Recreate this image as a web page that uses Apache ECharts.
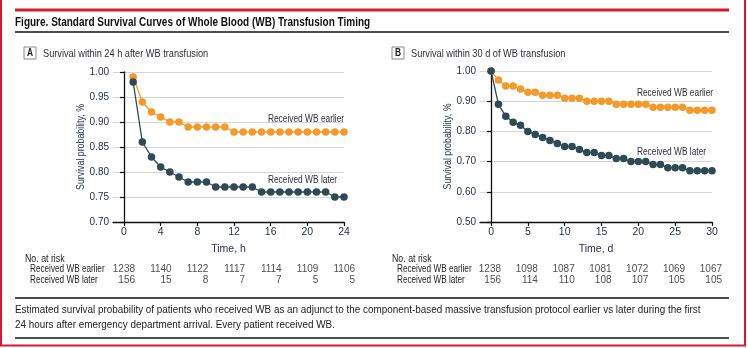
<!DOCTYPE html>
<html>
<head>
<meta charset="utf-8">
<script src="https://cdn.jsdelivr.net/npm/echarts@6/dist/echarts.min.js"></script>
<style>
  html, body { margin: 0; padding: 0; background: #fff; }
  #chart { width: 748px; height: 348px; }
</style>
</head>
<body>
<div id="chart"></div>
<script>
// Panel A: survival within 24 h (hours 1..24)
const hoursA = [1,2,3,4,5,6,7,8,9,10,11,12,13,14,15,16,17,18,19,20,21,22,23,24];
const earlierA = [0.99,0.94,0.92,0.91,0.90,0.90,0.89,0.89,0.89,0.89,0.89,0.88,0.88,0.88,0.88,0.88,0.88,0.88,0.88,0.88,0.88,0.88,0.88,0.88];
const laterA   = [0.98,0.86,0.83,0.81,0.80,0.79,0.78,0.78,0.78,0.77,0.77,0.77,0.77,0.77,0.76,0.76,0.76,0.76,0.76,0.76,0.76,0.76,0.75,0.75];

// Panel B: survival within 30 d (days 0..30)
const daysB = [0,1,2,3,4,5,6,7,8,9,10,11,12,13,14,15,16,17,18,19,20,21,22,23,24,25,26,27,28,29,30];
const earlierB = [1.00,0.97,0.95,0.95,0.94,0.93,0.93,0.92,0.92,0.92,0.91,0.91,0.91,0.90,0.90,0.90,0.90,0.89,0.89,0.89,0.89,0.89,0.88,0.88,0.88,0.88,0.88,0.87,0.87,0.87,0.87];
const laterB   = [1.00,0.89,0.85,0.83,0.82,0.80,0.79,0.78,0.77,0.76,0.75,0.75,0.74,0.73,0.73,0.72,0.72,0.71,0.71,0.70,0.70,0.70,0.69,0.69,0.68,0.68,0.68,0.67,0.67,0.67,0.67];

// Tick labels
const ticksA = [0,4,8,12,16,20,24];
const ticksB = [0,5,10,15,20,25,30];

// Numbers at risk
const riskRows = ['Received WB earlier', 'Received WB later'];
const riskEarlierA = [1238,1140,1122,1117,1114,1109,1106];
const riskLaterA   = [156,15,8,7,7,5,5];
const riskEarlierB = [1238,1098,1087,1081,1072,1069,1067];
const riskLaterB   = [156,114,110,108,107,105,105];

const FONT = '"Liberation Sans", Arial, sans-serif';
const ORANGE = '#F39A2B';
const SLATE = '#2E4A55';
const AXIS_TXT = '#263248';
const RED = '#D9182D';
const NARROW = 0.8;   // horizontal squeeze for a condensed look

const chart = echarts.init(document.getElementById('chart'), null, { renderer: 'canvas' });

function pairs(xs, ys) { return xs.map((x, i) => [x, ys[i]]); }

function plotX(gridIndex, min, max, ticks, name) {
  return {
    gridIndex, type: 'value', min, max,
    name, nameLocation: 'middle', nameGap: 22,
    nameTextStyle: { fontFamily: FONT, fontSize: 10.5, color: AXIS_TXT },
    axisLine: { show: true, lineStyle: { color: '#111', width: 1.3 } },
    axisTick: { show: true, length: 4, customValues: ticks, lineStyle: { color: '#111', width: 1.2 } },
    axisLabel: { customValues: ticks, margin: 5, fontFamily: FONT, fontSize: 10.5, color: AXIS_TXT },
    splitLine: { show: false }
  };
}
function plotY(gridIndex, min, max, interval) {
  return {
    gridIndex, type: 'value', min, max, interval,
    axisLine: { show: true, lineStyle: { color: '#111', width: 1.3 } },
    axisTick: { show: true, length: 4, lineStyle: { color: '#111', width: 1.2 } },
    axisLabel: { margin: 4, fontFamily: FONT, fontSize: 10, color: AXIS_TXT, formatter: v => v.toFixed(2) },
    splitLine: { show: true, lineStyle: { color: '#d6d6d6', width: 1 } }
  };
}
function riskX(gridIndex, min, max) {
  return { gridIndex, type: 'value', min, max, show: false };
}
function riskY(gridIndex) {
  return { gridIndex, type: 'category', data: riskRows, inverse: true, show: false };
}
function curve(name, x, y, data, color, z) {
  return {
    name, type: 'line', xAxisIndex: x, yAxisIndex: y, data, z,
    symbol: 'circle', symbolSize: 7.5, showSymbol: true,
    lineStyle: { color, width: 1.3 }, itemStyle: { color },
    animation: false, silent: true
  };
}
function riskSeries(x, y, times, earlier, later, dx) {
  const data = [];
  times.forEach((t, i) => { data.push([t, riskRows[0], earlier[i]]); data.push([t, riskRows[1], later[i]]); });
  return {
    type: 'scatter', xAxisIndex: x, yAxisIndex: y, data, symbolSize: 0, silent: true, animation: false,
    label: {
      show: true, position: 'inside', align: 'right', verticalAlign: 'middle', offset: [dx, 0],
      formatter: p => String(p.value[2]), fontFamily: FONT, fontSize: 10, color: '#222'
    }
  };
}

// Condensed text helper (text squeezed horizontally around its anchor)
const ctext = (text, x, y, extra, opts) => Object.assign({
  type: 'text', silent: true, x, y, scaleX: NARROW,
  style: Object.assign({ text, fontFamily: FONT, fontSize: 11, fill: '#222', verticalAlign: 'middle', align: 'left' }, extra || {})
}, opts || {});
const hline = (x1, x2, y, color, w) => ({
  type: 'line', silent: true, shape: { x1, y1: y, x2, y2: y }, style: { stroke: color, lineWidth: w }
});
const vline = (x, y1, y2, color, w) => ({
  type: 'line', silent: true, shape: { x1: x, y1, x2: x, y2 }, style: { stroke: color, lineWidth: w }
});
const panelTag = (letter, x, y, label) => ([
  { type: 'rect', silent: true, shape: { x, y, width: 12, height: 12 }, style: { fill: '#fff', stroke: '#8a8a8a', lineWidth: 1 } },
  ctext(letter, x + 6, y + 6.5, { fontSize: 10.5, fontWeight: 'bold', align: 'center' }),
  ctext(label, x + 19, y + 6.5, { fontSize: 11.5, fill: '#2b2d3a' })
]);

const option = {
  backgroundColor: '#fff',
  animation: false,
  grid: [
    { left: 113, top: 72, width: 231, height: 150 },
    { left: 480, top: 71, width: 232, height: 151 },
    { left: 113, top: 264, width: 231, height: 22 },
    { left: 480, top: 264, width: 232, height: 22 }
  ],
  xAxis: [
    plotX(0, -1.2, 24, ticksA, 'Time, h'),
    plotX(1, -1.5, 30, ticksB, 'Time, d'),
    riskX(2, -1.2, 24),
    riskX(3, -1.5, 30)
  ],
  yAxis: [
    plotY(0, 0.70, 1.00, 0.05),
    plotY(1, 0.50, 1.00, 0.10),
    riskY(2),
    riskY(3)
  ],
  series: [
    curve('Received WB earlier', 0, 0, pairs(hoursA, earlierA), ORANGE, 2),
    curve('Received WB later', 0, 0, pairs(hoursA, laterA), SLATE, 3),
    curve('Received WB earlier', 1, 1, pairs(daysB, earlierB), ORANGE, 2),
    curve('Received WB later', 1, 1, pairs(daysB, laterB), SLATE, 3),
    riskSeries(2, 2, ticksA, riskEarlierA, riskLaterA, 11),
    riskSeries(3, 3, ticksB, riskEarlierB, riskLaterB, 10)
  ]
};
chart.setOption(option);

// Text placed through the axes: curve notes, y-axis titles, risk row labels
const px = (grid, pt) => chart.convertToPixel({ gridIndex: grid }, pt);
const notes = [
  { grid: 0, at: [15.7, 0.906], text: 'Received WB earlier' },
  { grid: 0, at: [15.7, 0.784], text: 'Received WB later' },
  { grid: 1, at: [19.8, 0.927], text: 'Received WB earlier' },
  { grid: 1, at: [19.8, 0.732], text: 'Received WB later' }
];
const noteEls = notes.map(n => {
  const p = px(n.grid, n.at);
  return ctext(n.text, p[0], p[1], { fontSize: 11, fill: '#2b2d3a' }, { scaleX: 0.76 });
});
const yTitleEls = [[0, 0.85], [1, 0.75]].map(([g, mid], i) => {
  const p = px(g, [i === 0 ? -1.2 : -1.5, mid]);
  return ctext('Survival probability, %', p[0] - 32, p[1], { fontSize: 11, fill: AXIS_TXT, align: 'center' }, { rotation: Math.PI / 2 });
});
const rowEls = [];
[[2, 30], [3, 397]].forEach(([g, left]) => {
  riskRows.forEach(r => {
    const p = px(g, [0, r]);
    rowEls.push(ctext(r, left, p[1], { fontSize: 10.5, fill: '#222' }, { scaleX: 0.78 }));
  });
});

chart.setOption({
  graphic: [
    // red frame and top rule
    vline(1, 0, 346, RED, 2),
    vline(745, 0, 346, RED, 2),
    hline(0, 746, 345.5, RED, 2),
    hline(15, 729, 10, RED, 3),
    // figure title
    ctext('Figure. Standard Survival Curves of Whole Blood (WB) Transfusion Timing', 15, 22, { fontSize: 13, fontWeight: 'bold', fill: '#111' }, { scaleX: 0.77 }),
    hline(15, 729, 32, '#111', 1.5),
    // panel tags
    ...panelTag('A', 24, 47, 'Survival within 24 h after WB transfusion'),
    ...panelTag('B', 392, 47, 'Survival within 30 d of WB transfusion'),
    ...noteEls,
    ...yTitleEls,
    // risk table
    ctext('No. at risk', 25, 259, { fontSize: 11 }),
    ctext('No. at risk', 392, 259, { fontSize: 11 }),
    ...rowEls,
    // caption
    hline(15, 729, 298, '#111', 1.5),
    ctext('Estimated survival probability of patients who received WB as an adjunct to the component-based massive transfusion protocol earlier vs later during the first', 15, 310, { fontSize: 11.5 }, { scaleX: 0.86 }),
    ctext('24 hours after emergency department arrival. Every patient received WB.', 15, 325, { fontSize: 11.5 }, { scaleX: 0.86 }),
    hline(15, 729, 338, '#111', 1.5)
  ]
});
</script>
</body>
</html>
